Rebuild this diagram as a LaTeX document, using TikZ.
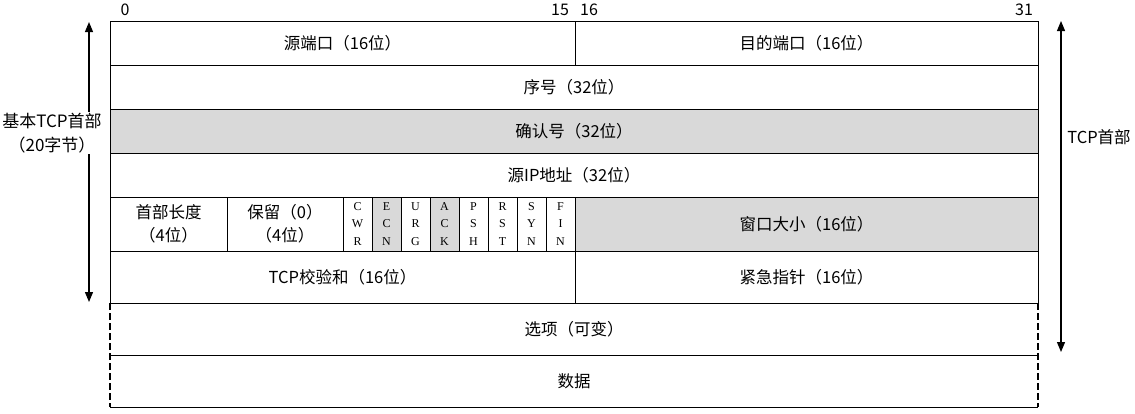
\documentclass[tikz,border=0pt]{standalone}
\usepackage{fontspec}
\setmainfont{Noto Sans CJK SC}
\newfontfamily\flagfont{Liberation Serif}
\usepackage{xcolor}
\usetikzlibrary{arrows.meta, positioning, calc}
\definecolor{fieldgray}{RGB}{217,217,217}
\tikzset{
    field/.style={
        rectangle,
        draw=black,
        line width=1pt,
        inner sep=0pt,
        outer sep=0pt,
        anchor=north west,
        align=center,
        font=\fontsize{16.5}{23}\selectfont,
    },
    flagbox/.style={
        field,
        minimum width=29pt,
        minimum height=54pt,
        font=\flagfont\fontsize{12}{17.5}\selectfont,
    },
    bitnum/.style={
        inner sep=0pt,
        font=\fontsize{16}{18}\selectfont,
    },
    dashside/.style={
        line width=2pt,
        dash pattern=on 7pt off 3pt,
    },
}

\begin{document}
\begin{tikzpicture}[x=1pt,y=-1pt,>={Triangle[width=8pt,length=10pt]}]
      \useasboundingbox (0,0) rectangle (1135,413);

      \node [field, minimum width=465pt, minimum height=44pt] (SRC) at (110,21) {源端口（16位）};
      \node [field, minimum width=463pt, minimum height=44pt] (DST) at (SRC.north east) {目的端口（16位）};
      \node [field, minimum width=928pt, minimum height=44pt] (SEQ) at (SRC.south west) {序号（32位）};
      \node [field, minimum width=928pt, minimum height=44pt, fill=fieldgray] (ACK) at (SEQ.south west) {确认号（32位）};
      \node [field, minimum width=928pt, minimum height=44pt] (SIP) at (ACK.south west) {源IP地址（32位）};

      \node [field, minimum width=117pt, minimum height=54pt] (HLEN) at (SIP.south west) {首部长度\\（4位）};
      \node [field, minimum width=116pt, minimum height=54pt] (RSV) at (HLEN.north east) {保留（0）\\（4位）};
      \foreach \a/\b/\c/\col [count=\i from 0] in {C/W/R/white, E/C/N/fieldgray, U/R/G/white, A/C/K/fieldgray,
                                                  P/S/H/white, R/S/T/white, S/Y/N/white, F/I/N/white}
        \node [flagbox, fill=\col] (F\i) at ($(RSV.north east)+(29*\i,0)$) {\a\\\b\\\c};
      \node [field, minimum width=463pt, minimum height=54pt, fill=fieldgray] (WIN) at (F7.north east) {窗口大小（16位）};

      \node [field, minimum width=465pt, minimum height=52pt] (CHK) at (HLEN.south west) {TCP校验和（16位）};
      \node [field, minimum width=463pt, minimum height=52pt] (URG) at (CHK.north east) {紧急指针（16位）};
      \node [field, draw=none, minimum width=928pt, minimum height=52pt] (OPT) at (CHK.south west) {选项（可变）};
      \node [field, draw=none, minimum width=928pt, minimum height=52pt] (DATA) at (OPT.south west) {数据};

      \draw [line width=1pt] (OPT.south west) -- (OPT.south east);
      \draw [line width=1pt] (DATA.south west) -- (DATA.south east);
      \draw [dashside] (OPT.north west) -- (DATA.south west);
      \draw [dashside] (OPT.north east) -- (DATA.south east);

      % bit positions
      \node [bitnum] (B0) at ($(SRC.north west)+(15,-11)$) {0};
      \node [bitnum] (B15) at ($(SRC.north east)+(-15,-11)$) {15};
      \node [bitnum] (B16) at ($(DST.north west)+(14,-11)$) {16};
      \node [bitnum] (B31) at ($(DST.north east)+(-14,-11)$) {31};

      % header spans
      \coordinate (LT) at ($(SRC.north west)+(-21,1)$);
      \coordinate (LB) at ($(CHK.south west)+(-21,-1)$);
      \coordinate (RT) at ($(DST.north east)+(23,0)$);
      \coordinate (RB) at ($(OPT.south east)+(23,-3)$);
      \draw [<->, line width=1.2pt] (LT) -- (LB);
      \draw [<->, line width=1.2pt] (RT) -- (RB);
      \node [bitnum, fill=white, inner sep=1pt, align=center, font=\fontsize{17}{24}\selectfont] (BASIC) at (52,133) {基本TCP首部\\（20字节）};
      \node [bitnum, font=\fontsize{16.5}{18}\selectfont] (FULL) at (1099,137) {TCP首部};
    \end{tikzpicture}
\end{document}
